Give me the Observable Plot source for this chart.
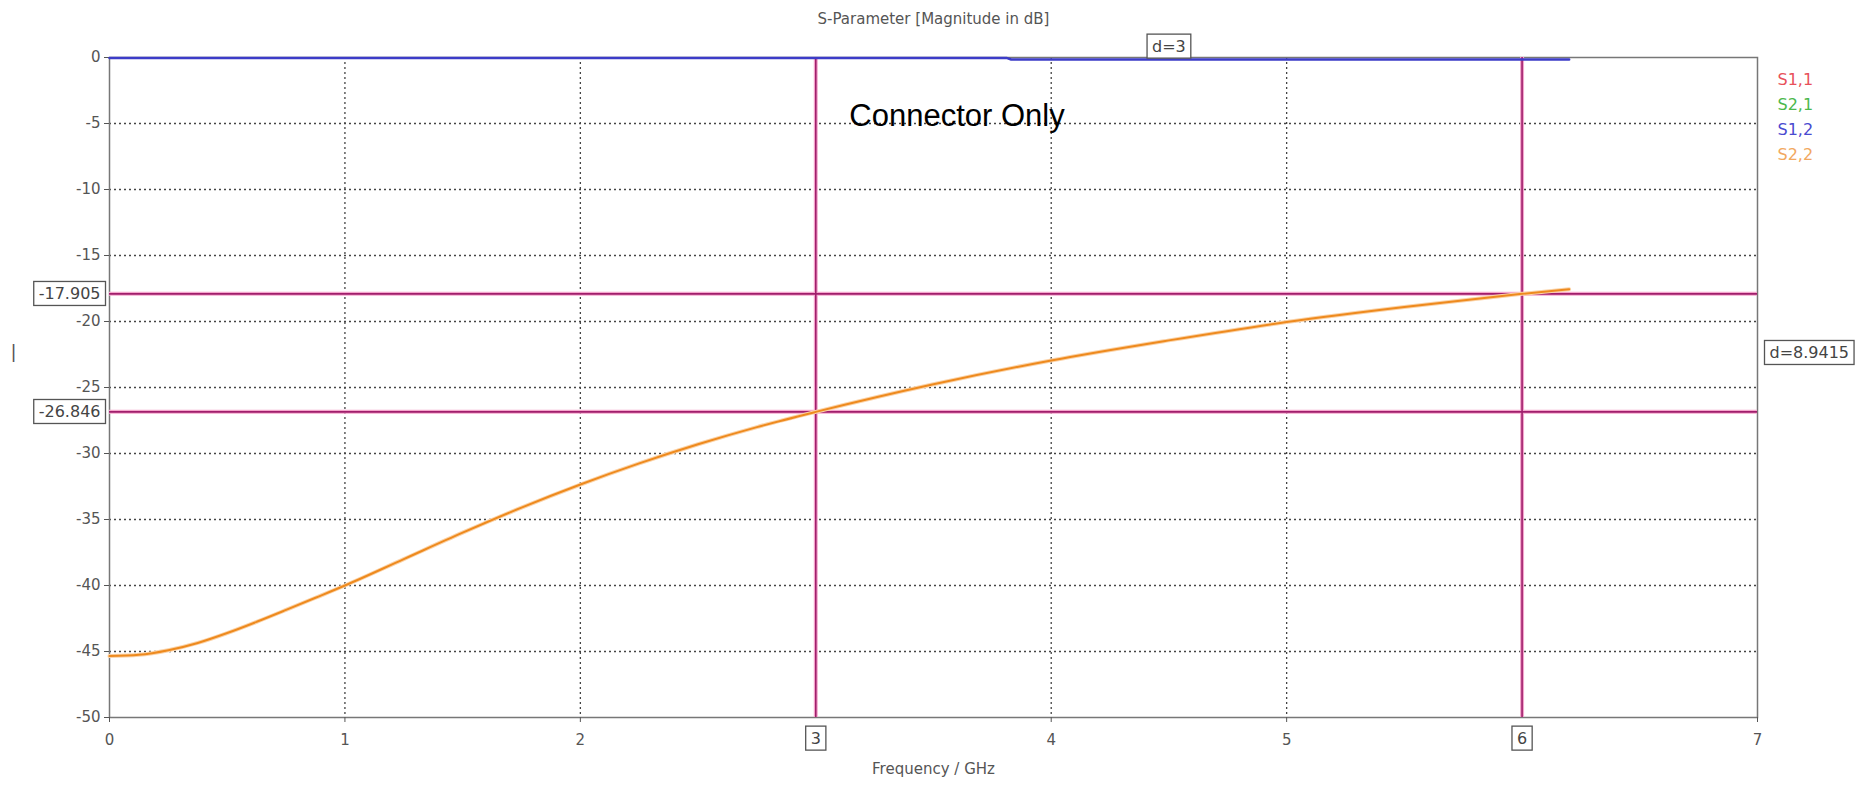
<!DOCTYPE html>
<html>
<head>
<meta charset="utf-8">
<script src="https://cdn.jsdelivr.net/npm/d3@7"></script>
<script src="https://cdn.jsdelivr.net/npm/@observablehq/plot@0.6"></script>
<style>
  html, body { margin: 0; padding: 0; background: #fff; }
  svg { display: block; }
</style>
</head>
<body>
<script>
// ---- Data ----
const s22Freq = [0, 0.125, 0.25, 0.375, 0.5, 0.625, 0.75, 0.875, 1, 1.25, 1.5, 1.75, 2, 2.25, 2.5, 2.75, 3, 3.5, 4, 4.5, 5, 5.5, 6, 6.2];
const s22Mag  = [-45.35, -45.25, -44.9, -44.35, -43.6, -42.75, -41.85, -40.93, -40.0, -38.0, -36.0, -34.1, -32.35, -30.75, -29.3, -28.0, -26.846, -24.75, -22.95, -21.43, -20.04, -18.9, -17.905, -17.55];
const s12Freq = [0, 1, 2, 3, 3.81, 3.83, 5, 6.2];
const s12Mag  = [-0.03, -0.03, -0.03, -0.03, -0.03, -0.15, -0.15, -0.15];

const markerX = [3, 6];
const markerY = [-26.846, -17.905];
const markerYLabels = ["-26.846", "-17.905"];
const deltaXLabel = "d=3";
const deltaYLabel = "d=8.9415";

const xTicks = [0, 1, 2, 4, 5, 7];
const xGrid = [1, 2, 3, 4, 5, 6];
const yTicks = [0, -5, -10, -15, -20, -25, -30, -35, -40, -45, -50];
const yGrid = [-5, -10, -15, -20, -25, -30, -35, -40, -45];

const legendNames = ["S1,1", "S2,1", "S1,2", "S2,2"];
const legendColors = ["#e8505a", "#4cb84c", "#4a4ad0", "#f2a860"];

const titleText = "S-Parameter [Magnitude in dB]";
const xLabelText = "Frequency / GHz";
const annotation = [{x: 3.6, y: -4.4, text: "Connector Only"}];

// ---- Build tables ----
const s22 = s22Freq.map((f, i) => ({f, v: s22Mag[i]}));
const s12 = s12Freq.map((f, i) => ({f, v: s12Mag[i]}));

const font = "'DejaVu Sans', sans-serif";
const markerCore = "#a01e6c";
const markerHalo = "#f4a6cc";

const legendMarks = legendNames.map((n, i) =>
  Plot.text([n], {text: d => d, fill: legendColors[i], frameAnchor: "top-right", textAnchor: "start",
    lineAnchor: "middle", dx: 20, dy: 22 + i * 25, fontSize: 16})
);

const plot = Plot.plot({
  width: 1859,
  height: 787,
  marginLeft: 109,
  marginRight: 102,
  marginTop: 57,
  marginBottom: 70,
  style: {fontFamily: font, fontSize: "15px", color: "#555", background: "#fff"},
  x: {domain: [0, 7]},
  y: {domain: [-50, 0]},
  marks: [
    Plot.gridX(xGrid, {stroke: "#444", strokeOpacity: 1, strokeWidth: 1.3, strokeDasharray: "2,3"}),
    Plot.gridY(yGrid, {stroke: "#444", strokeOpacity: 1, strokeWidth: 1.3, strokeDasharray: "2,3"}),
    Plot.frame({stroke: "#777", strokeWidth: 1.5}),
    Plot.axisY({ticks: yTicks, tickFormat: d => String(d), tickSize: 5, tickPadding: 4, label: null,
      fontSize: 15, fill: "#555", stroke: "#555"}),
    Plot.axisX({ticks: xTicks, tickFormat: d => String(d), tickSize: 5, tickPadding: 12, label: null,
      fontSize: 15, fill: "#555", stroke: "#555"}),
    // marker lines
    Plot.ruleX(markerX, {stroke: markerHalo, strokeWidth: 4}),
    Plot.ruleY(markerY, {stroke: markerHalo, strokeWidth: 4}),
    Plot.ruleX(markerX, {stroke: markerCore, strokeWidth: 1.6}),
    Plot.ruleY(markerY, {stroke: markerCore, strokeWidth: 1.6}),
    // data lines
    Plot.line(s22, {x: "f", y: "v", stroke: "#fbd3a8", strokeWidth: 4, curve: "monotone-x"}),
    Plot.line(s22, {x: "f", y: "v", stroke: "#ee8a1e", strokeWidth: 2, curve: "monotone-x"}),
    Plot.line(s12, {x: "f", y: "v", stroke: "#3c3cc8", strokeWidth: 2.5}),
    // boxed marker labels
    Plot.text(markerY, {y: d => d, text: (d, i) => markerYLabels[i], frameAnchor: "left", textAnchor: "end",
      dx: -9, fill: "#444", fontSize: 16}),
    Plot.text(markerX, {x: d => d, text: d => String(d), frameAnchor: "bottom", lineAnchor: "middle",
      dy: 21, fill: "#444", fontSize: 16}),
    Plot.text([deltaXLabel], {x: () => (markerX[0] + markerX[1]) / 2, text: d => d, frameAnchor: "top",
      lineAnchor: "middle", dy: -11, fill: "#444", fontSize: 16}),
    Plot.text([deltaYLabel], {y: () => (markerY[0] + markerY[1]) / 2, text: d => d, frameAnchor: "right",
      textAnchor: "start", dx: 12, fill: "#444", fontSize: 16}),
    // title and axis label
    Plot.text([titleText], {text: d => d, frameAnchor: "top", lineAnchor: "middle", dy: -38, fill: "#555", fontSize: 15}),
    Plot.text([xLabelText], {text: d => d, frameAnchor: "bottom", lineAnchor: "middle", dy: 52, fill: "#555", fontSize: 15}),
    Plot.text(["|"], {text: d => d, frameAnchor: "left", y: () => -22.3, dx: -99, fill: "#555", fontSize: 18}),
    // legend
    ...legendMarks,
    // annotation
    Plot.text(annotation, {x: "x", y: "y", text: "text", fill: "#000", fontSize: 31,
      fontFamily: "'Liberation Sans Narrow', 'Liberation Sans', sans-serif"})
  ]
});

document.body.append(plot);

// Draw boxes behind the boxed labels
const boxedSet = new Set([...markerYLabels, ...markerX.map(String), deltaXLabel, deltaYLabel]);
d3.select(plot).selectAll('g[aria-label="text"] text').each(function () {
  if (!boxedSet.has(this.textContent)) return;
  const b = this.getBBox();
  const r = document.createElementNS("http://www.w3.org/2000/svg", "rect");
  r.setAttribute("x", b.x - 5);
  r.setAttribute("y", b.y - 2.5);
  r.setAttribute("width", b.width + 10);
  r.setAttribute("height", b.height + 5);
  r.setAttribute("fill", "#fff");
  r.setAttribute("stroke", "#555");
  r.setAttribute("stroke-width", "1.3");
  const t = this.getAttribute("transform");
  if (t) r.setAttribute("transform", t);
  this.parentNode.insertBefore(r, this);
});
</script>
</body>
</html>
